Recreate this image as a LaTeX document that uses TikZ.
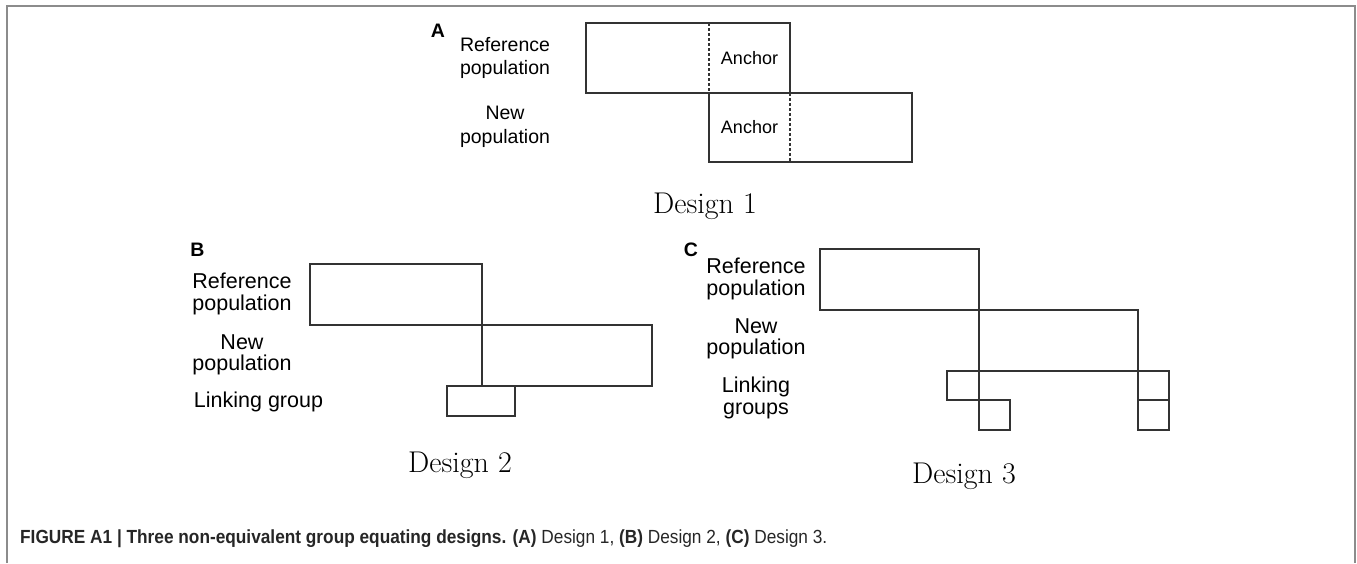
\documentclass[tikz,border=0pt]{standalone}
\usepackage{fontspec}
\newfontfamily\sansf{Liberation Sans}
\begin{document}
\begin{tikzpicture}[x=1pt,y=-1pt,
  lbl/.style={font=\sansf\fontsize{21.5}{21.5}\selectfont, align=center, inner sep=0},
  lblA/.style={font=\sansf\fontsize{19.5}{23.5}\selectfont, align=center, inner sep=0},
  anc/.style={font=\sansf\fontsize{18}{18}\selectfont, inner sep=0},
  panel/.style={font=\sansf\bfseries\fontsize{19.5}{19.5}\selectfont, inner sep=0},
  design/.style={font=\fontsize{30}{32}\selectfont, inner sep=0, anchor=base},
  grp/.style={draw=black!80, line width=1.5pt},
  dots/.style={draw=black!80, line width=1.1pt, dash pattern=on 2.5pt off 2.5pt},
  frame/.style={draw=black!45, line width=1.6pt}]
\useasboundingbox (0,0) rectangle (1357,563);
% frame
\draw[frame] (7,563) -- (7,6) -- (1355,6) -- (1355,563);

% ---------- Panel A ----------
\node[panel] (pA) at (438,31) {A};
\node[lblA] (refA) at (505,58) {Reference\\population};
\node[lblA] (newA) at (505,127) {New\\population};
\draw[grp] (586,23) rectangle (790,93);
\draw[grp] (709,93) rectangle (912,162);
\draw[dots] (709,23) -- (709,93);
\draw[dots] (790,93) -- (790,162);
\node[anc] (ancA1) at (749.5,58) {Anchor};
\node[anc] (ancA2) at (749.5,127.5) {Anchor};
\node[design] (d1) at (705,213) {Design 1};

% ---------- Panel B ----------
\node[panel] (pB) at (197.5,250) {B};
\node[lbl] (refB) at (242,294) {Reference\\population};
\node[lbl] (newB) at (242,355) {New\\population};
\node[lbl] (linkB) at (258.5,402) {Linking group};
\draw[grp] (310,264) rectangle (482,325);
\draw[grp] (482,325) rectangle (652,386);
\draw[grp] (447,386) rectangle (515,416);
\node[design] (d2) at (460,472) {Design 2};

% ---------- Panel C ----------
\node[panel] (pC) at (691,250) {C};
\node[lbl] (refC) at (756,279) {Reference\\population};
\node[lbl] (newC) at (756,339) {New\\population};
\node[lbl] (linkC) at (756,398) {Linking\\groups};
\draw[grp] (820,249) rectangle (979,310);
\draw[grp] (979,310) rectangle (1138,371);
\draw[grp] (947,371) rectangle (979,400);
\draw[grp] (979,400) rectangle (1010,430);
\draw[grp] (1138,371) rectangle (1169,400);
\draw[grp] (1138,400) rectangle (1169,430);
\node[design] (d3) at (964,483) {Design 3};

% ---------- caption ----------
\node[anchor=base west, inner sep=0, text=black!85] (cap) at (20,543)
  {\resizebox{807pt}{\height}{\sansf\fontsize{19}{19}\selectfont\textbf{FIGURE A1 | Three non-equivalent group equating designs. (A)} Design 1, \textbf{(B)} Design 2, \textbf{(C)} Design 3.}};
\end{tikzpicture}
\end{document}
